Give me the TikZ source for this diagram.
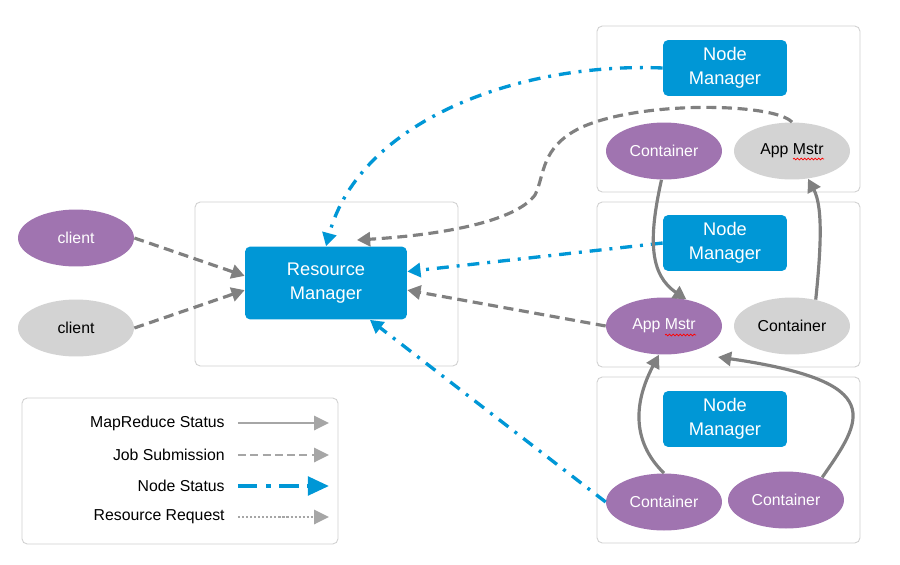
\documentclass[tikz,border=0pt]{standalone}
\usepackage{fontspec}
\setmainfont{Liberation Sans}
\usepackage{tikz}
\usetikzlibrary{shapes, arrows.meta, positioning}
\usetikzlibrary{calc, decorations.pathmorphing}
\definecolor{yarnblue}{RGB}{0,151,214}
\definecolor{yarnpurple}{RGB}{160,116,176}
\definecolor{yarngray}{RGB}{211,211,211}
\definecolor{linegray}{RGB}{128,128,128}
\definecolor{keygray}{RGB}{166,166,166}
\definecolor{panelgray}{RGB}{208,208,208}

\begin{document}
\begin{tikzpicture}
  [
    x=0.02cm, y=-0.02cm,
    Panel/.style={draw=panelgray, line width=0.5pt, rounded corners=3pt},
    Box/.style={rectangle, rounded corners=3pt, fill=yarnblue, text=white, align=center, inner sep=0pt, font=\fontsize{10.4}{13.6}\selectfont},
    RM/.style={Box, minimum width=3.24cm, minimum height=1.46cm},
    NM/.style={Box, minimum width=2.48cm, minimum height=1.12cm},
    Purple/.style={ellipse, fill=yarnpurple, text=white, minimum width=2.32cm, minimum height=1.14cm, inner sep=0pt, font=\fontsize{9}{11}\selectfont},
    Gray/.style={Purple, fill=yarngray, text=black},
    Key/.style={anchor=east, inner sep=0pt, font=\fontsize{9}{11}\selectfont},
    Status/.style={draw=linegray, line width=1.8pt, -{Triangle[length=7.5pt, width=8pt]}},
    Submit/.style={Status, dash pattern=on 5.7pt off 3.2pt},
    Heartbeat/.style={draw=yarnblue, line width=1.9pt, dash pattern=on 6.8pt off 4.5pt on 1.7pt off 4.5pt, -{Triangle[length=7.5pt, width=8pt]}},
    KeyLine/.style={draw=keygray, line width=1.7pt, -{Triangle[length=8.5pt, width=8pt]}},
    Squiggle/.style={draw=red, line width=0.4pt, decorate, decoration={snake, amplitude=0.5pt, segment length=2pt}}
  ]
  \useasboundingbox (0,0) rectangle (900,565);
  % Panels
  \draw[Panel] (195,202) rectangle (458,366);
  \draw[Panel] (597,26) rectangle (860,192);
  \draw[Panel] (597,202) rectangle (860,367);
  \draw[Panel] (597,377) rectangle (860,543);
  \draw[Panel] (22,398) rectangle (338,544);
  % Nodes
  \node[RM] (rm) at (326,283) {Resource\\Manager};
  \node[NM] (nm1) at (725,68) {Node\\Manager};
  \node[NM] (nm2) at (725,243) {Node\\Manager};
  \node[NM] (nm3) at (725,419) {Node\\Manager};
  \node[Purple] (cl1) at (76,238) {client};
  \node[Gray] (cl2) at (76,328) {client};
  \node[Purple] (c1) at (664,151) {Container};
  \node[Gray] (am1) at (792,151) {App Mstr};
  \node[Purple] (am2) at (664,326) {App Mstr};
  \node[Gray] (c2) at (792,326) {Container};
  \node[Purple] (c3) at (664,502) {Container};
  \node[Purple] (c4) at (786,500) {Container};
  \coordinate (rmin) at (357,240);
  \coordinate (amin) at (718,357);
  \path[Squiggle] ($(am1.center)+(1,8)$) -- ($(am1.center)+(32,8)$);
  \path[Squiggle] ($(am2.center)+(1,9)$) -- ($(am2.center)+(32,9)$);
  % Lines
  \path[Submit] (cl1.east) -- (rm.175);
  \path[Submit] (cl2.east) -- (rm.185);
  \path[Heartbeat] (nm1.west) .. controls (520,62) and (360,120) .. (rm.north);
  \path[Submit] (am1.north) .. controls (775,103) and (640,100) .. (580,128)
    .. controls (540,148) and (545,175) .. (535,195)
    .. controls (515,222) and (440,235) .. (rmin);
  \path[Heartbeat] (nm2.west) -- (rm.8);
  \path[Submit] (am2.west) -- (rm.-5);
  \path[Heartbeat] (c3.west) -- (rm.-40);
  \path[Status] (c1.-95) .. controls (648,240) and (650,275) .. (am2.50);
  \path[Status] (c2.48) .. controls (822,240) and (822,205) .. (am1.-60);
  \path[Status] (c3.north) .. controls (630,440) and (635,400) .. (am2.-100);
  \path[Status] (c4.32) .. controls (862,420) and (890,382) .. (amin);
  % Legend
  \node[Key] (k1) at (225,423) {MapReduce Status};
  \node[Key] (k2) at (225,455) {Job Submission};
  \node[Key] (k3) at (225,486) {Node Status};
  \node[Key] (k4) at (225,517) {Resource Request};
  \path[KeyLine] ([xshift=0.26cm]k1.east) -- ++(91,0);
  \path[KeyLine, dash pattern=on 4.5pt off 2.5pt] ([xshift=0.26cm]k2.east) -- ++(91,0);
  \path[draw=yarnblue, line width=2.2pt, dash pattern=on 11pt off 5pt on 2.5pt off 5pt,
    -{Triangle[length=12pt, width=10.5pt]}] ([xshift=0.26cm]k3.east) -- ++(91,0);
  \path[KeyLine, dash pattern=on 1.2pt off 1.1pt] ([xshift=0.26cm]k4.east) -- ++(91,0);
\end{tikzpicture}
\end{document}
